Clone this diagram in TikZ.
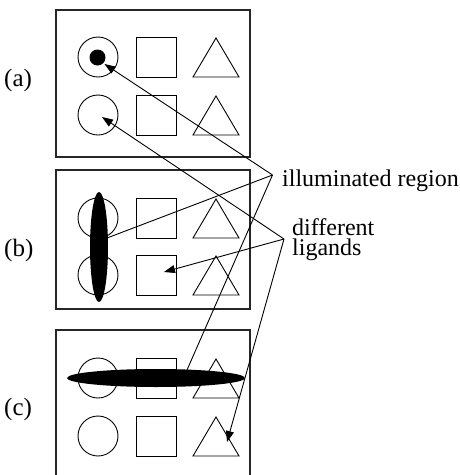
\documentclass[tikz,border=0pt]{standalone}
\usepackage{fontspec}
\setmainfont{Liberation Serif}
\usetikzlibrary{arrows.meta,shapes.geometric}
\begin{document}
\begin{tikzpicture}[x=1pt,y=-1pt,
  panel/.style={draw=black!85, line width=1.1pt},
  outline/.style={draw, line width=0.9pt},
  blot/.style={fill=black, draw=none, inner sep=0pt},
  pointer/.style={line width=0.9pt, -{Triangle[length=11pt,width=8pt]}},
  lead/.style={line width=0.9pt},
  lbl/.style={font=\fontsize{24}{24}\selectfont, inner sep=0pt, anchor=base west},
  letter/.style={lbl, font=\fontsize{25}{25}\selectfont}]
\useasboundingbox (0,0) rectangle (459,475);

% the three panels; the last one runs off the bottom edge
\draw[panel] (56,10) rectangle (250,157);
\draw[panel] (56,170) rectangle (250,309);
\draw[panel] (56,475) -- (56,330) -- (250,330) -- (250,475);

% circle, square and triangle in every row
\foreach \yc in {57,115,218,275,378,436} {
  \draw[outline] (98,\yc) circle[radius=20pt];
  \draw[outline] (136,\yc-20) rectangle (176,\yc+20);
  \draw[outline] (216,\yc-19) -- (239,\yc+20) -- (193,\yc+20) -- cycle;
}

% illuminated spots
\fill (97.5,57.5) circle[radius=8pt];
\node[blot, ellipse, minimum width=18pt, minimum height=110pt] (spotb) at (99,247) {};
\node[blot, ellipse, minimum width=178pt, minimum height=18pt] (spotc) at (156,378) {};

% panel letters
\node[letter] (la) at (4,86.5) {(a)};
\node[letter] (lb) at (4,256.5) {(b)};
\node[letter] (lc) at (4,415) {(c)};

% captions on the right
\node[lbl] (illum) at (282,186) {illuminated region};
\node[lbl] (diff) at (292,235.6)
  {\vtop{\baselineskip=20pt\hbox{different}\hbox{ligands}}};

% meeting points of the leader lines
\coordinate (p1) at (272.5,175);
\coordinate (p2) at (284,239);

% targets
\coordinate (ta) at (104.5,64);
\coordinate (tb) at (102,117);
\coordinate (hitb) at (107,238);
\coordinate (hitc) at (187,370);
\coordinate (tsq) at (164,272);
\coordinate (ttri) at (227,442);

\draw[pointer] (p1) -- (ta);
\draw[lead] (p1) -- (hitb);
\draw[lead] (p1) -- (hitc);
\draw[pointer] (p2) -- (tb);
\draw[pointer] (p2) -- (tsq);
\draw[pointer] (p2) -- (ttri);
\end{tikzpicture}
\end{document}
